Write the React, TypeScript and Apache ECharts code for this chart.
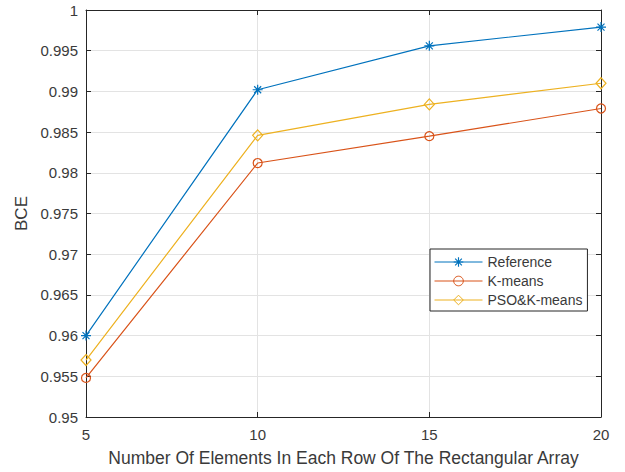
import React, { useEffect, useRef } from "react";
import * as echarts from "echarts";

const xValues = [5, 10, 15, 20];
const referenceValues = [0.96, 0.9902, 0.9956, 0.9979];
const kmeansValues = [0.9548, 0.9812, 0.9845, 0.9879];
const psoValues = [0.957, 0.9846, 0.9884, 0.991];
const seriesNames = ["Reference", "K-means", "PSO&K-means"];
const xTitle = "Number Of Elements In Each Row Of The Rectangular Array";
const yTitle = "BCE";

const FONT = "'Liberation Sans', Arial, Helvetica, sans-serif";
const AX = "#262626";
const TXT = "#3a3a3a";
const GRID = "#e3e3e3";

const asterisk =
  "path://M-0.6,-5L0.6,-5L0.6,5L-0.6,5Z M-5,-0.6L5,-0.6L5,0.6L-5,0.6Z " +
  "M-3.08,-3.92L3.92,3.08L3.08,3.92L-3.92,-3.08Z " +
  "M3.92,-3.08L-3.08,3.92L-3.92,3.08L3.08,-3.92Z";

function pairs(vals: number[]) {
  return xValues.map((x, i) => [x, vals[i]]);
}

export default function App() {
  const ref = useRef<HTMLDivElement>(null);
  useEffect(() => {
    if (!ref.current) return;
    const chart = echarts.init(ref.current, undefined, { renderer: "svg" });
    const axisCommon = {
      axisLine: { show: true, lineStyle: { color: AX, width: 1 } },
      axisTick: { show: true, inside: true, length: 5, lineStyle: { color: AX } },
    };
    chart.setOption({
      animation: false,
      backgroundColor: "#ffffff",
      textStyle: { fontFamily: FONT },
      grid: { left: 86, right: 24, top: 10, bottom: 55, containLabel: false },
      legend: {
        orient: "vertical",
        left: 430,
        top: 249,
        padding: [6, 5, 4, 4],
        itemGap: 5,
        itemWidth: 48,
        itemHeight: 12,
        itemTextGap: 4,
        borderColor: AX,
        borderWidth: 1,
        borderRadius: 0,
        backgroundColor: "#ffffff",
        lineStyle: { width: 1 },
        itemStyle: { borderWidth: 1 },
        textStyle: { color: TXT, fontSize: 14, fontFamily: FONT },
        data: seriesNames,
      },
      xAxis: [
        {
          type: "value",
          position: "bottom",
          min: 5,
          max: 20,
          interval: 5,
          name: xTitle,
          nameLocation: "middle",
          nameGap: 32,
          nameTextStyle: { color: TXT, fontSize: 17.5, fontFamily: FONT },
          ...axisCommon,
          axisLabel: { color: TXT, fontSize: 15, margin: 10, fontFamily: FONT },
          splitLine: { show: true, lineStyle: { color: GRID, width: 1 } },
        },
        {
          type: "value",
          position: "top",
          min: 5,
          max: 20,
          interval: 5,
          ...axisCommon,
          axisLabel: { show: false },
          splitLine: { show: false },
        },
      ],
      yAxis: [
        {
          type: "value",
          position: "left",
          min: 0.95,
          max: 1,
          interval: 0.005,
          name: yTitle,
          nameLocation: "middle",
          nameGap: 52,
          nameRotate: 90,
          nameTextStyle: { color: TXT, fontSize: 17, fontFamily: FONT },
          ...axisCommon,
          axisLabel: {
            color: TXT,
            fontSize: 15,
            margin: 8,
            fontFamily: FONT,
            formatter: (v: number) => String(parseFloat(v.toFixed(3))),
          },
          splitLine: { show: true, lineStyle: { color: GRID, width: 1 } },
        },
        {
          type: "value",
          position: "right",
          min: 0.95,
          max: 1,
          interval: 0.005,
          ...axisCommon,
          axisLabel: { show: false },
          splitLine: { show: false },
        },
      ],
      series: [
        {
          name: seriesNames[0],
          type: "line",
          data: pairs(referenceValues),
          symbol: asterisk,
          symbolSize: 10,
          lineStyle: { color: "#0072BD", width: 1.2 },
          itemStyle: { color: "#0072BD", borderWidth: 0 },
          z: 5,
        },
        {
          name: seriesNames[1],
          type: "line",
          data: pairs(kmeansValues),
          symbol: "circle",
          symbolSize: 9,
          lineStyle: { color: "#D95319", width: 1.2 },
          itemStyle: { color: "rgba(0,0,0,0)", borderColor: "#D95319", borderWidth: 1.2 },
          z: 4,
        },
        {
          name: seriesNames[2],
          type: "line",
          data: pairs(psoValues),
          symbol: "diamond",
          symbolSize: [10, 11],
          lineStyle: { color: "#EDB120", width: 1.2 },
          itemStyle: { color: "rgba(0,0,0,0)", borderColor: "#EDB120", borderWidth: 1.2 },
          z: 3,
        },
      ],
    });
    return () => chart.dispose();
  }, []);
  return (
    <div
      ref={ref}
      style={{ position: "fixed", left: 0, top: 0, width: 625, height: 472, background: "#fff" }}
    />
  );
}
